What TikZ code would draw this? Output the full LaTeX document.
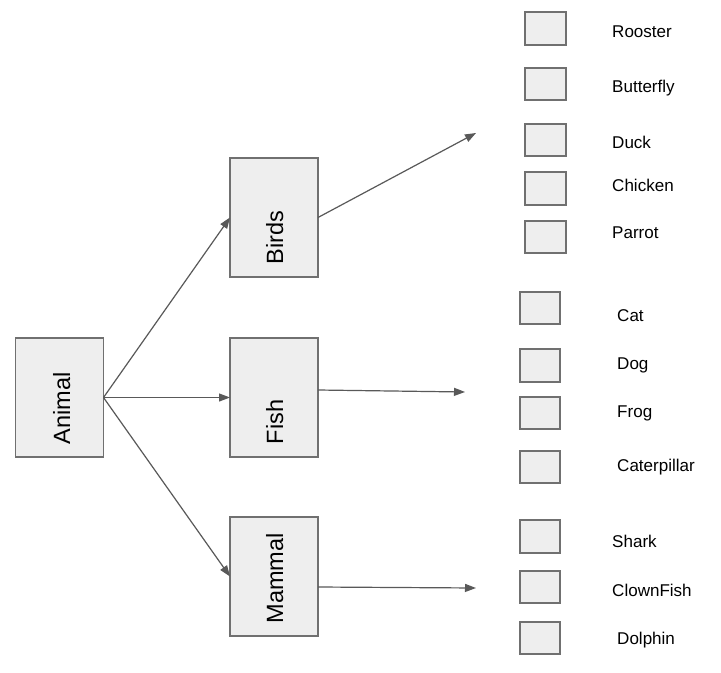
\documentclass[tikz,border=0pt]{standalone}
\usepackage{fontspec}
\setmainfont{Liberation Sans}
\usetikzlibrary{arrows.meta}
\definecolor{boxfill}{HTML}{EEEEEE}
\definecolor{boxline}{HTML}{707070}
\definecolor{arrowc}{HTML}{595959}
\begin{document}
\begin{tikzpicture}[x=1bp,y=-1bp,
 bigbox/.style={draw=boxline, fill=boxfill, line width=1.2bp, minimum width=88bp, minimum height=119bp, inner sep=0pt, outer sep=0pt},
 smallbox/.style={draw=boxline, fill=boxfill, line width=1.2bp, minimum width=40bp, minimum height=32bp, inner sep=0pt, outer sep=0pt},
 bigtext/.style={rotate=90, anchor=base west, font=\fontsize{23.6pt}{28pt}\selectfont, inner sep=0pt},
 itemtext/.style={anchor=base west, font=\fontsize{17.1pt}{20pt}\selectfont, inner sep=0pt},
 conn/.style={draw=arrowc, line width=1.2bp, -{Triangle[length=11bp,width=8bp]}}]
\fill[white] (0,0) rectangle (721,673);
\useasboundingbox (0,0) rectangle (721,673);
% main boxes
\node[bigbox] (animal) at (59.5,397.5) {};
\node[bigbox] (birds) at (274,217.5) {};
\node[bigbox] (fish) at (274,397.5) {};
\node[bigbox] (mammal) at (274,576.5) {};
\node[bigtext] (tanimal) at (70,444.5) {Animal};
\node[bigtext] (tbirds) at (283,264.5) {Birds};
\node[bigtext] (tfish) at (283,444.5) {Fish};
\node[bigtext] (tmammal) at (283,623.5) {Mammal};
% connectors
\draw[conn] (animal.east) -- (birds.west);
\draw[conn] (animal.east) -- (fish.west);
\draw[conn] (animal.east) -- (mammal.west);
\coordinate (bt) at (476,133);
\coordinate (ft) at (465,392);
\coordinate (mt) at (476,588);
\draw[conn] (birds.east) -- (bt);
\draw[conn] ([yshift=7.5bp]fish.east) -- (ft);
\draw[conn] ([yshift=-10.5bp]mammal.east) -- (mt);
% group 1
\node[smallbox, minimum width=41bp, minimum height=33bp] (b1) at (545.5,28.5) {};
\node[smallbox, minimum width=41bp] (b2) at (545.5,84) {};
\node[smallbox, minimum width=41bp] (b3) at (545.5,140) {};
\node[smallbox, minimum width=41bp, minimum height=33bp] (b4) at (545.5,188.5) {};
\node[smallbox, minimum width=41bp] (b5) at (545.5,237) {};
\node[itemtext] (l1) at (612,38) {Rooster};
\node[itemtext] (l2) at (612,93) {Butterfly};
\node[itemtext] (l3) at (612,148) {Duck};
\node[itemtext] (l4) at (612,191) {Chicken};
\node[itemtext] (l5) at (612,238) {Parrot};
% group 2
\node[smallbox] (b6) at (540,308) {};
\node[smallbox, minimum height=33bp] (b7) at (540,365.5) {};
\node[smallbox] (b8) at (540,413) {};
\node[smallbox] (b9) at (540,467) {};
\node[itemtext] (l6) at (617,321) {Cat};
\node[itemtext] (l7) at (617,369) {Dog};
\node[itemtext] (l8) at (617,417) {Frog};
\node[itemtext] (l9) at (617,471) {Caterpillar};
% group 3
\node[smallbox, minimum height=33bp] (b10) at (540,536.5) {};
\node[smallbox] (b11) at (540,587) {};
\node[smallbox] (b12) at (540,638) {};
\node[itemtext] (l10) at (612,547) {Shark};
\node[itemtext] (l11) at (612,596) {ClownFish};
\node[itemtext] (l12) at (617,644) {Dolphin};
\end{tikzpicture}
\end{document}
